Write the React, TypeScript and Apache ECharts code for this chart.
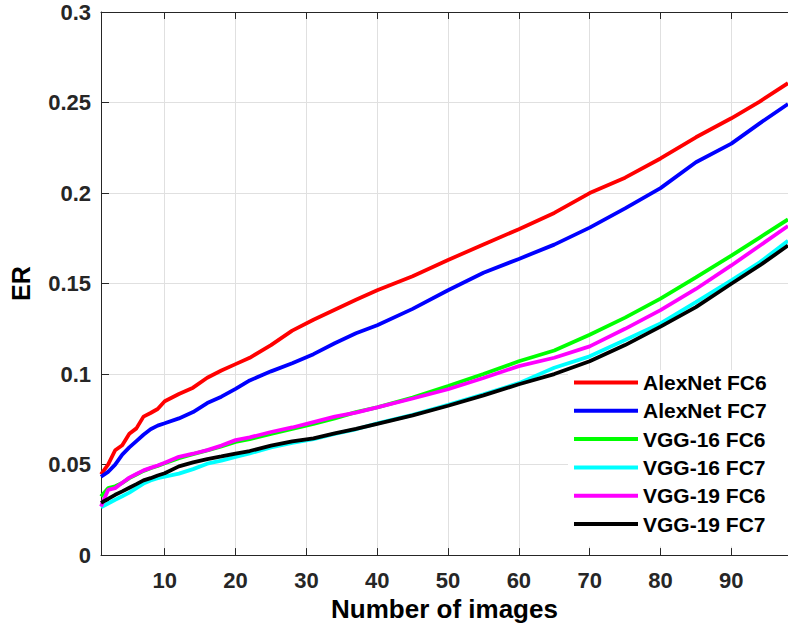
import React, { useEffect, useRef } from "react";
import * as echarts from "echarts";

const xs = [1, 2, 3, 4, 5, 6, 7, 8, 9, 10, 12, 14, 16, 18, 20, 22, 25, 28, 31, 34, 37, 40, 45, 50, 55, 60, 65, 70, 75, 80, 85, 90, 94, 98];

const alexFc6 = [0.0446, 0.050, 0.0579, 0.0607, 0.067, 0.070, 0.0765, 0.0785, 0.0807, 0.085, 0.089, 0.0925, 0.098, 0.102, 0.1055, 0.109, 0.116, 0.124, 0.130, 0.1355, 0.141, 0.1463, 0.154, 0.163, 0.1716, 0.180, 0.189, 0.200, 0.2085, 0.2191, 0.2308, 0.2413, 0.2505, 0.2607];
const alexFc7 = [0.0433, 0.046, 0.050, 0.0555, 0.0595, 0.063, 0.0665, 0.0695, 0.0715, 0.0728, 0.0755, 0.079, 0.084, 0.0875, 0.0918, 0.0965, 0.1015, 0.106, 0.111, 0.117, 0.1225, 0.127, 0.136, 0.1463, 0.156, 0.1636, 0.1715, 0.1809, 0.1915, 0.2027, 0.217, 0.2273, 0.2385, 0.2492];
const vgg16Fc6 = [0.0324, 0.037, 0.038, 0.0398, 0.0425, 0.0445, 0.0465, 0.048, 0.0492, 0.0507, 0.0535, 0.0558, 0.0578, 0.060, 0.0625, 0.064, 0.067, 0.0697, 0.0725, 0.0755, 0.079, 0.0816, 0.087, 0.0934, 0.100, 0.1071, 0.113, 0.1217, 0.1312, 0.1417, 0.1534, 0.1654, 0.1754, 0.1854];
const vgg16Fc7 = [0.0264, 0.0285, 0.0306, 0.0325, 0.0345, 0.037, 0.0395, 0.0412, 0.0425, 0.0433, 0.045, 0.0475, 0.0505, 0.0522, 0.0543, 0.0562, 0.0595, 0.062, 0.064, 0.067, 0.0695, 0.0728, 0.0775, 0.083, 0.0888, 0.095, 0.1035, 0.1098, 0.1188, 0.128, 0.1397, 0.1517, 0.1617, 0.1736];
const vgg19Fc6 = [0.0269, 0.036, 0.037, 0.040, 0.0428, 0.0448, 0.0468, 0.0482, 0.0495, 0.051, 0.0543, 0.056, 0.058, 0.0605, 0.0635, 0.065, 0.068, 0.0705, 0.0735, 0.0765, 0.0787, 0.0816, 0.0865, 0.0916, 0.0978, 0.1044, 0.109, 0.1153, 0.125, 0.1353, 0.147, 0.160, 0.1709, 0.1818];
const vgg19Fc7 = [0.0288, 0.031, 0.0333, 0.0352, 0.0372, 0.0392, 0.0413, 0.0425, 0.044, 0.0452, 0.049, 0.0512, 0.053, 0.0545, 0.0561, 0.0575, 0.0605, 0.0628, 0.0645, 0.0672, 0.0697, 0.0725, 0.0772, 0.0825, 0.0882, 0.0944, 0.100, 0.1071, 0.116, 0.1262, 0.137, 0.1499, 0.160, 0.171];

const seriesNames = ["AlexNet FC6", "AlexNet FC7", "VGG-16 FC6", "VGG-16 FC7", "VGG-19 FC6", "VGG-19 FC7"];
const seriesValues = [alexFc6, alexFc7, vgg16Fc6, vgg16Fc7, vgg19Fc6, vgg19Fc7];
const seriesColors = ["#ff0000", "#0000ff", "#00ff00", "#00ffff", "#ff00ff", "#000000"];
const xTicks = [10, 20, 30, 40, 50, 60, 70, 80, 90];

const FONT = "'Liberation Sans', Arial, Helvetica, sans-serif";

export default function App() {
  const ref = useRef<HTMLDivElement>(null);
  useEffect(() => {
    if (!ref.current) return;
    const chart = echarts.init(ref.current, null, { renderer: "svg" });
    const axisColor = "#262626";
    chart.setOption({
      animation: false,
      backgroundColor: "#ffffff",
      grid: { left: 99, top: 12, right: 0, bottom: 66, containLabel: false },
      legend: {
        orient: "vertical",
        left: 568,
        top: 370,
        padding: [2, 30, 12, 6],
        backgroundColor: "#ffffff",
        icon: "rect",
        itemWidth: 64,
        itemHeight: 4,
        itemGap: 7.3,
        data: seriesNames,
        textStyle: { fontFamily: FONT, fontSize: 21, fontWeight: "bold", color: "#000000", lineHeight: 20 },
      },
      xAxis: [
        {
          type: "value",
          min: 1,
          max: 98,
          position: "bottom",
          name: "Number of images",
          nameLocation: "middle",
          nameGap: 35,
          nameTextStyle: { fontFamily: FONT, fontSize: 26, fontWeight: "bold", color: "#000000" },
          axisLine: { show: true, lineStyle: { color: axisColor, width: 1 } },
          axisTick: { show: true, inside: true, length: 7, customValues: xTicks, lineStyle: { color: axisColor } },
          axisLabel: { customValues: xTicks, margin: 14, fontFamily: FONT, fontSize: 22, fontWeight: "bold", color: axisColor },
          splitLine: { show: true, lineStyle: { color: "#e0e0e0", width: 1 } },
        },
        {
          type: "value",
          min: 1,
          max: 98,
          position: "top",
          axisLine: { show: true, onZero: false, lineStyle: { color: axisColor, width: 1 } },
          axisTick: { show: true, inside: true, length: 7, customValues: xTicks, lineStyle: { color: axisColor } },
          axisLabel: { show: false },
          splitLine: { show: false },
        },
      ],
      yAxis: {
        type: "value",
        min: 0,
        max: 0.3,
        interval: 0.05,
        name: "ER",
        nameLocation: "middle",
        nameGap: 68,
        nameTextStyle: { fontFamily: FONT, fontSize: 25, fontWeight: "bold", color: "#000000" },
        axisLine: { show: true, lineStyle: { color: axisColor, width: 1 } },
        axisTick: { show: true, inside: true, length: 8, lineStyle: { color: axisColor } },
        axisLabel: { margin: 10, fontFamily: FONT, fontSize: 22, fontWeight: "bold", color: axisColor },
        splitLine: { show: true, lineStyle: { color: "#e0e0e0", width: 1 } },
      },
      series: seriesNames.map((name, i) => ({
        name,
        type: "line",
        xAxisIndex: 0,
        showSymbol: false,
        symbol: "none",
        color: seriesColors[i],
        lineStyle: { color: seriesColors[i], width: 3.8 },
        data: xs.map((x, j) => [x, seriesValues[i][j]]),
        z: 2 + i,
      })),
    });
    return () => chart.dispose();
  }, []);
  return <div ref={ref} style={{ position: "fixed", left: 0, top: 0, width: 788, height: 627 }} />;
}
